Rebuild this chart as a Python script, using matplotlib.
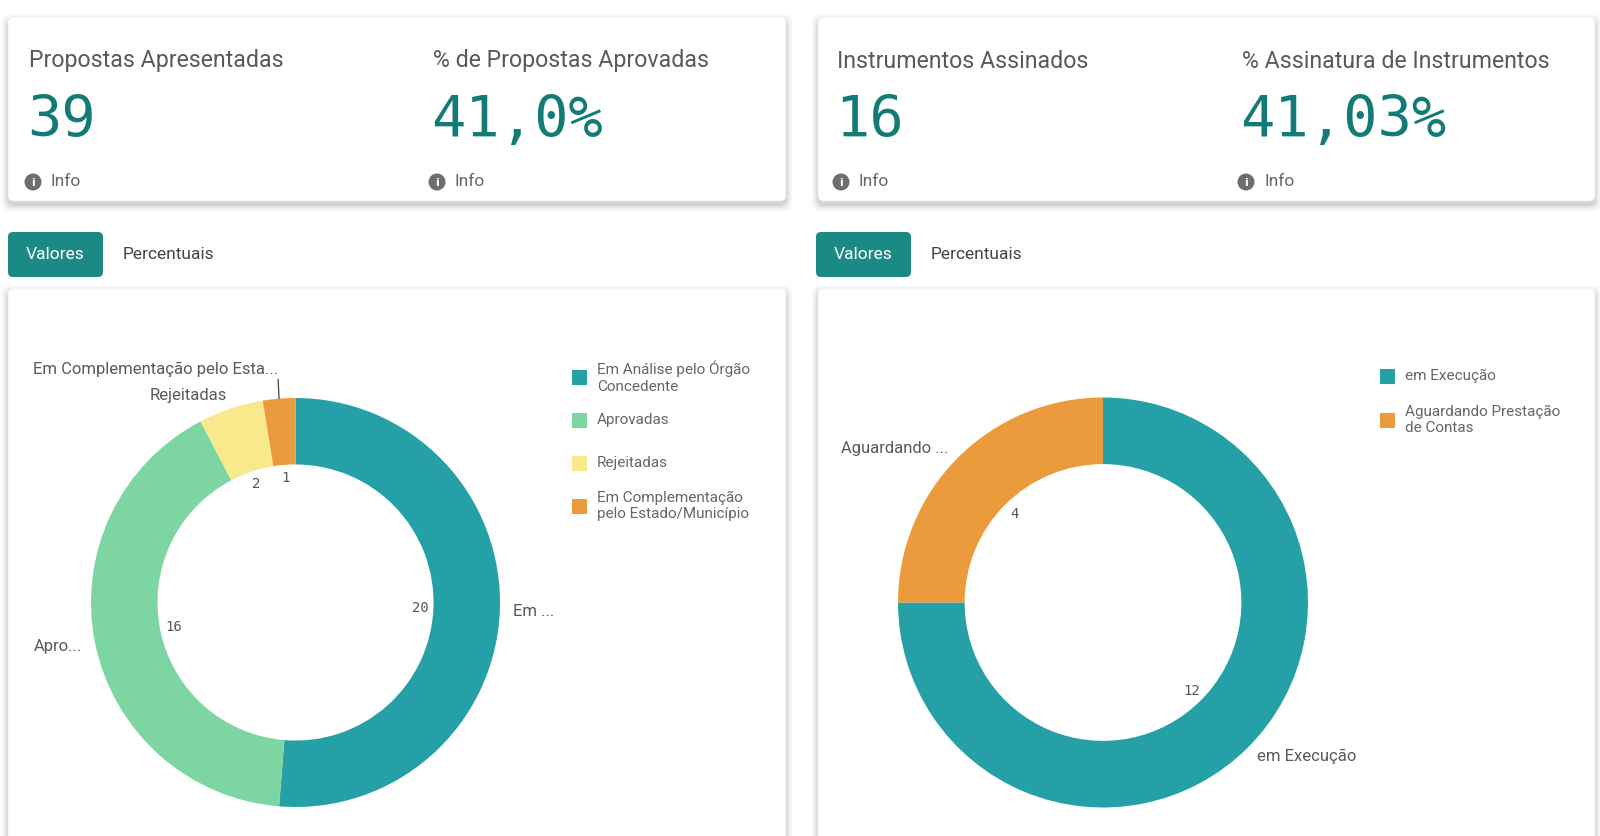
import matplotlib
matplotlib.use("Agg")
import matplotlib.pyplot as plt
import matplotlib.patches as patches
import numpy as np

plt.rcParams['font.family'] = ['Roboto', 'DejaVu Sans']

# dados dos indicadores
kpi_titulos = ["Propostas Apresentadas", "% de Propostas Aprovadas",
               "Instrumentos Assinados", "% Assinatura de Instrumentos"]
kpi_valores = ["39", "41,0%", "16", "41,03%"]

# grafico de propostas
prop_categorias = ["Em Análise pelo Órgão\nConcedente", "Aprovadas", "Rejeitadas",
                   "Em Complementação\npelo Estado/Município"]
prop_rotulos = ["Em ...", "Apro...", "Rejeitadas", "Em Complementação pelo Esta..."]
prop_valores = [20, 16, 2, 1]
prop_cores = ["#26a0a7", "#7dd6a1", "#f8e98c", "#eb9b3c"]

# grafico de instrumentos
inst_categorias = ["em Execução", "Aguardando Prestação\nde Contas"]
inst_rotulos = ["em Execução", "Aguardando ..."]
inst_valores = [12, 4]
inst_cores = ["#26a0a7", "#eb9b3c"]

TEAL = "#137b76"
CINZA = "#595959"
W, H = 1600, 836

fig = plt.figure(figsize=(16, 8.36), dpi=100)
fig.patch.set_facecolor("white")
bg = fig.add_axes([0, 0, 1, 1])
bg.set_xlim(0, W)
bg.set_ylim(H, 0)
bg.axis('off')


def cartao(x0, y0, x1, y1):
    # sombra suave
    for i, a in enumerate([0.05, 0.04, 0.03, 0.022, 0.015, 0.01]):
        p = i * 2.5 + 2
        s = patches.FancyBboxPatch((x0 - p / 2, y0 - p / 2 + 4), x1 - x0 + p, y1 - y0 + p,
                                   boxstyle="round,pad=0,rounding_size=8",
                                   facecolor="black", edgecolor="none", alpha=a, zorder=1)
        bg.add_patch(s)
    c = patches.FancyBboxPatch((x0, y0), x1 - x0, y1 - y0,
                               boxstyle="round,pad=0,rounding_size=6",
                               facecolor="white", edgecolor="#ececec", linewidth=0.6, zorder=2)
    bg.add_patch(c)


def info(x, y):
    bg.add_patch(patches.Circle((x, y), 8.5, facecolor="#6e6e6e", edgecolor="none", zorder=3))
    bg.text(x, y + 0.5, "i", color="white", fontsize=8, fontweight="bold",
            ha="center", va="center", family="DejaVu Sans", zorder=4)
    bg.text(x + 18, y, "Info", color="#666666", fontsize=12.5, ha="left", va="center", zorder=4)


# cartoes dos indicadores
cartao(8, 17, 786, 201)
cartao(818, 17, 1595, 201)
kpi_x = [29, 433, 837, 1242]
for x, t, v in zip(kpi_x, kpi_titulos, kpi_valores):
    bg.text(x, 61, t, color=CINZA, fontsize=16.7, ha="left", va="center", zorder=4)
    bg.text(x - 2, 137, v, color=TEAL, fontsize=41, family="DejaVu Sans Mono",
            ha="left", va="baseline", zorder=4)
    info(x + 4, 182)

# abas
for bx in [8, 816]:
    b = patches.FancyBboxPatch((bx, 232), 95, 45, boxstyle="round,pad=0,rounding_size=5",
                               facecolor="#1c8a84", edgecolor="none", zorder=3)
    bg.add_patch(b)
    bg.text(bx + 47.5, 254.5, "Valores", color="white", fontsize=12.5, ha="center", va="center", zorder=4)
    bg.text(bx + 115, 254.5, "Percentuais", color="#444444", fontsize=12.5, ha="left", va="center", zorder=4)

# cartoes dos graficos
cartao(8, 288, 786, 870)
cartao(818, 288, 1595, 870)


def rosca(cx, cy, R, valores, cores, rotulos, sem_rotulo=None):
    ax = fig.add_axes([(cx - R) / W, (H - cy - R) / H, 2 * R / W, 2 * R / H])
    ax.set_zorder(5)
    ax.patch.set_alpha(0)
    total = sum(valores)
    labs = [("" if i == sem_rotulo else r) for i, r in enumerate(rotulos)]
    wedges, textos, nums = ax.pie(valores, colors=cores, startangle=90, counterclock=False,
                                  radius=1, wedgeprops=dict(width=0.325, linewidth=0),
                                  labels=labs, labeldistance=1.065,
                                  autopct=lambda p: f"{round(p * total / 100)}", pctdistance=0.61,
                                  textprops=dict(color=CINZA, fontsize=12))
    for n in nums:
        n.set_family("DejaVu Sans Mono")
        n.set_fontsize(10)
        n.set_color("#555555")
    ax.set_xlim(-1, 1)
    ax.set_ylim(-1, 1)
    if sem_rotulo is not None:
        w = wedges[sem_rotulo]
        ang = np.deg2rad((w.theta1 + w.theta2) / 2)
        xy = (np.cos(ang), np.sin(ang) * 1.0)
        ax.annotate(rotulos[sem_rotulo], xy=xy, xytext=(xy[0] - 0.005, 1.105),
                    ha="right", va="bottom", color=CINZA, fontsize=12,
                    arrowprops=dict(arrowstyle="-", color="#444444", lw=0.9,
                                    relpos=(1, 0), shrinkA=0, shrinkB=0),
                    annotation_clip=False)
    return ax


rosca(295.5, 602.5, 204.5, prop_valores, prop_cores, prop_rotulos, sem_rotulo=3)
rosca(1103, 602.5, 205, inst_valores, inst_cores, inst_rotulos)


def legenda(x, y, passo, nomes, cores):
    for i, (n, c) in enumerate(zip(nomes, cores)):
        yc = y + i * passo
        bg.add_patch(patches.Rectangle((x, yc - 7.5), 15, 15, facecolor=c, edgecolor="none", zorder=4))
        bg.text(x + 25, yc, n, color="#666666", fontsize=11, ha="left", va="center",
                linespacing=1.25, zorder=4)


legenda(572, 377, 43, prop_categorias, prop_cores)
legenda(1380, 376, 44, inst_categorias, inst_cores)

fig.savefig("out.png", dpi=100, facecolor="white")
